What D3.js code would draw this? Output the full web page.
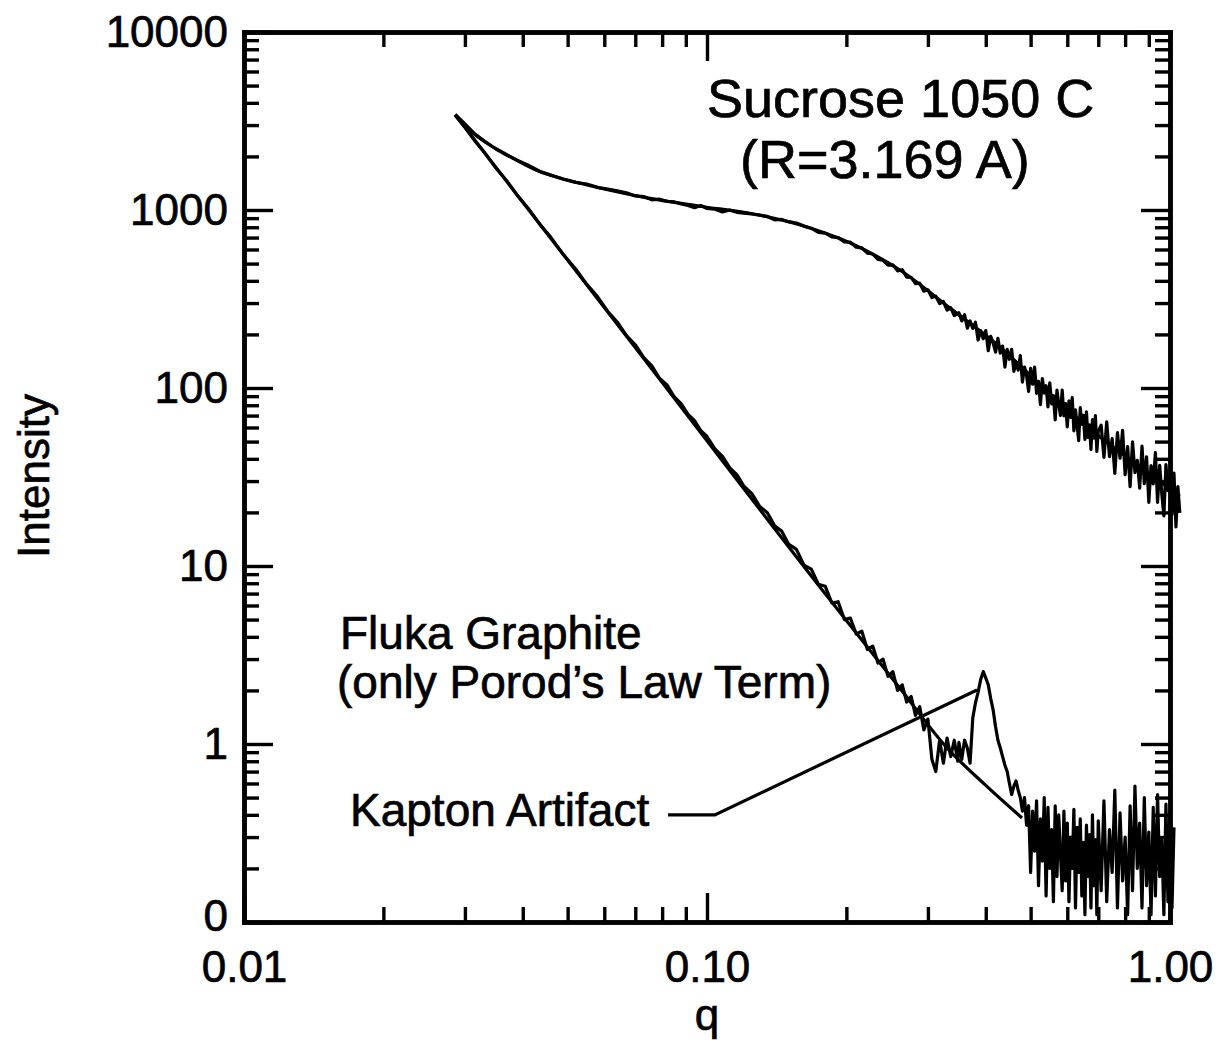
<!DOCTYPE html>
<html><head><meta charset="utf-8">
<script src="https://cdn.jsdelivr.net/npm/d3@7"></script>
<style>
html,body{margin:0;padding:0;background:#fff;}
svg text{font-family:"Liberation Sans",Arial,Helvetica,sans-serif;fill:#000;stroke:#000;stroke-width:0.7px;}
</style></head><body>
<svg id="chart" width="1219" height="1043"></svg>
<script>
// ---------- data ----------
const qData = [
0.0286,0.030,0.0315,0.033,0.035,0.037,0.039,0.041,0.0435,0.046,0.049,0.052,0.055,0.058,0.061,0.064,0.067,0.070,0.073,0.076,
0.079,0.082,0.085,0.088,0.091,0.094,0.097,0.100,0.104,0.108,0.112,0.116,0.120,0.125,0.130,0.135,0.140,0.145,0.150,
0.156,0.162,0.168,0.174,0.180,0.186,0.192,0.198,0.204,0.210,0.216,0.222,0.228,0.234,0.240,0.246,0.252,0.258,0.264,0.270,
0.276,0.282,0.288,0.294,0.300,0.306,0.312,0.318,0.324,0.330,0.336,0.342,0.348,
0.350,0.355,0.360,0.365,0.370,0.375,0.380,0.385,0.390,0.395,0.400,0.405,0.410,0.415,0.420,0.425,0.430,0.435,0.440,0.445,
0.450,0.455,0.460,0.465,0.470,0.475,0.480,0.485,0.490,0.495,0.500,0.505,0.510,0.515,0.520,0.525,0.530,0.535,0.540,0.545,
0.550,0.555,0.560,0.565,0.570,0.575,0.580,0.585,0.590,0.595,0.600,0.605,0.610,0.615,0.620,0.625,0.630,0.635,0.640,0.645,
0.650,0.655,0.660,0.665,0.670,0.675,0.680,0.685,0.690,0.695,0.700,
0.71,0.72,0.73,0.74,0.75,0.76,0.77,0.78,0.79,0.80,0.81,0.82,0.83,0.84,0.85,0.86,0.87,0.88,0.89,0.90,
0.91,0.92,0.93,0.94,0.95,0.96,0.97,0.98,0.99,1.00,1.01,1.02,1.03,1.04,1.05
];
const sucroseData = [
3450,3050,2680,2450,2200,2030,1900,1790,1650,1570,1490,1430,1400,1340,1310,1280,1250,1200,1190,1140,
1150,1120,1110,1080,1060,1030,1060,1020,1010,975,1000,970,960,950,935,920,880,885,860,
845,812,790,748,742,706,700,662,660,618,612,572,566,528,522,490,492,455,462,420,
418,386,388,350,356,322,328,298,306,274,283,255,262,
265,238,258,217,238,216,234,186,210,189,210,162,195,179,159,190,157,172,131,165,
145,165,124,140,126,152,108,131,118,95.6,129,105,131,93.3,109,80.7,113,93.6,103,78.4,
107,81.5,90.6,66.1,97.2,81.5,70.1,97.2,69.8,81.7,60.4,84.8,68.4,88.2,57.5,75.4,61.7,50.6,77.5,62.4,
70.2,51.5,73.4,52.8,62.1,45.2,66.5,52.3,69.9,44.0,57.2,
61.8,40.8,64.6,41.1,51.9,33.1,56.1,40.3,57.8,32.6,46.9,27.9,49.9,33.5,39.2,27.4,47.1,29.0,41.0,22.8,
36.7,28.9,43.3,22.8,36.8,25.5,19.1,37.1,26.5,31.8,19.4,33.3,16.6,27.9,19.9
];
const graphiteData = [
3400,2920,2450,2120,1720,1450,1200,1030,835,702,560,468,382,326,270,235,197,175,148,133,
113,104,89,81.5,71,65.5,57.5,53.4,45.5,41.3,35.6,32.6,28.2,25.5,21.6,19.9,16.8,15.7,13.3,
12.4,10.1,9.6,7.9,7.7,6.2,6.3,5.0,5.1,4.15,4.3,3.4,3.55,2.85,3.0,2.4,2.55,2.0,2.15,1.72,
1.85,1.45,1.62,1.2,1.38,0.82,0.70,1.05,0.78,1.08,0.85,1.05,0.80,
1.02,0.82,1.05,0.95,0.78,1.40,1.70,1.95,2.30,2.55,2.35,2.15,1.80,1.55,1.25,1.05,0.95,0.85,0.76,0.70,
0.60,0.52,0.58,0.62,0.55,0.50,0.42,0.50,0.35,0.45,0.19,0.42,0.25,0.48,0.16,0.38,0.22,0.50,0.14,0.44,
0.20,0.33,0.13,0.45,0.18,0.40,0.24,0.15,0.42,0.17,0.36,0.13,0.30,0.20,0.43,0.12,0.34,0.19,0.38,0.14,
0.28,0.11,0.35,0.18,0.31,0.12,0.40,0.16,0.29,0.11,0.37,
0.15,0.48,0.13,0.33,0.19,0.55,0.12,0.41,0.17,0.30,0.11,0.45,0.15,0.58,0.20,0.36,0.12,0.50,0.16,0.32,
0.11,0.44,0.14,0.52,0.18,0.29,0.11,0.46,0.13,0.38,0.12,0.34,null,null,null
];
const qSucroseFit = [0.0286,0.0312,0.0370,0.0436,0.0499,0.0587,0.0742,0.0966,0.126,0.159,0.204,0.261,0.335,0.429,0.551,0.706,0.905,1.05];
const sucroseFit  = [3420,2710,2040,1640,1475,1330,1170,1050,950,823,652,460,281,170,92.5,53.0,32.9,24.7];
const qPorodFit = [0.0286,0.0706,0.184,0.261,0.330,0.399,0.479];
const porodFit  = [3420,164,6.5,2.06,0.95,0.589,0.384];
const kaptonPointerQ = [0.0824,0.104,0.383];
const kaptonPointerI = [0.40,0.40,2.01];
const xTickValues = [0.01,0.1,1];
const xTickLabels = ["0.01","0.10","1.00"];
const yTickValues = [0.1,1,10,100,1000,10000];
const yTickLabels = ["0","1","10","100","1000","10000"];

// ---------- chart ----------
const svg = d3.select("#chart");
const x = d3.scaleLog().domain([0.01,1]).range([244,1170]);
const y = d3.scaleLog().domain([0.1,10000]).range([922,32]);
const isMajor = v => Math.abs(Math.log10(v) - Math.round(Math.log10(v))) < 1e-6;
const xMinor = x.ticks().filter(v => !isMajor(v));
const yMinor = y.ticks().filter(v => !isMajor(v));

function styleAxis(g){
  g.attr("font-size",null).attr("font-family",null);
  g.select(".domain").attr("stroke","#000").attr("stroke-width",4.5).attr("stroke-linecap","square");
  g.selectAll(".tick line").attr("stroke","#000").attr("stroke-width",3.4);
  g.selectAll(".tick text").style("font-size","44px");
}
const axes = svg.append("g");
// bottom
axes.append("g").attr("transform","translate(0,922)")
  .call(d3.axisBottom(x).tickValues(xMinor).tickSize(-15).tickSizeOuter(0).tickFormat("")).call(styleAxis);
axes.append("g").attr("transform","translate(0,922)")
  .call(d3.axisBottom(x).tickValues(xTickValues).tickSize(-29).tickSizeOuter(0).tickPadding(29)
    .tickFormat(d => xTickLabels[xTickValues.findIndex(v => Math.abs(v-d)<1e-9)])).call(styleAxis);
// top
axes.append("g").attr("transform","translate(0,32)")
  .call(d3.axisTop(x).tickValues(xMinor).tickSize(-15).tickSizeOuter(0).tickFormat("")).call(styleAxis);
axes.append("g").attr("transform","translate(0,32)")
  .call(d3.axisTop(x).tickValues(xTickValues).tickSize(-29).tickSizeOuter(0).tickFormat("")).call(styleAxis);
// left
axes.append("g").attr("transform","translate(244,0)")
  .call(d3.axisLeft(y).tickValues(yMinor).tickSize(-15).tickSizeOuter(0).tickFormat("")).call(styleAxis);
axes.append("g").attr("transform","translate(244,0)")
  .call(d3.axisLeft(y).tickValues(yTickValues).tickSize(-29).tickSizeOuter(0).tickPadding(16)
    .tickFormat(d => yTickLabels[yTickValues.findIndex(v => Math.abs(v-d)<1e-9)])).call(styleAxis)
  .selectAll(".tick text").attr("dy", d => d === yTickValues[0] ? "0.2em" : "0.32em");
// right
axes.append("g").attr("transform","translate(1170,0)")
  .call(d3.axisRight(y).tickValues(yMinor).tickSize(-15).tickSizeOuter(0).tickFormat("")).call(styleAxis);
axes.append("g").attr("transform","translate(1170,0)")
  .call(d3.axisRight(y).tickValues(yTickValues).tickSize(-29).tickSizeOuter(0).tickFormat("")).call(styleAxis);

// axis titles
svg.append("text").attr("transform","translate(49,476) rotate(-90)")
  .attr("text-anchor","middle").style("font-size","44px").text("Intensity");
svg.append("text").attr("x",707).attr("y",1030)
  .attr("text-anchor","middle").style("font-size","44px").text("q");

// lines
const lineData = d3.line().defined(d => d[1] != null).x(d => x(d[0])).y(d => y(d[1]));
const lineFit = d3.line().x(d => x(d[0])).y(d => y(d[1])).curve(d3.curveMonotoneX);
const plot = svg.append("g");
const SW = 3.2;
plot.append("path").datum(qSucroseFit.map((q,i)=>[q,sucroseFit[i]]))
  .attr("d",lineFit).attr("fill","none").attr("stroke","#000").attr("stroke-width",SW).attr("stroke-linejoin","round");
plot.append("path").datum(qPorodFit.map((q,i)=>[q,porodFit[i]]))
  .attr("d",lineFit).attr("fill","none").attr("stroke","#000").attr("stroke-width",SW).attr("stroke-linejoin","round");
plot.append("path").datum(qData.map((q,i)=>[q,sucroseData[i]]))
  .attr("d",lineData).attr("fill","none").attr("stroke","#000").attr("stroke-width",SW).attr("stroke-linejoin","round");
plot.append("path").datum(qData.map((q,i)=>[q,graphiteData[i]]))
  .attr("d",lineData).attr("fill","none").attr("stroke","#000").attr("stroke-width",SW).attr("stroke-linejoin","round");
// Kapton pointer
plot.append("path").datum(kaptonPointerQ.map((q,i)=>[q,kaptonPointerI[i]]))
  .attr("d",d3.line().x(d=>x(d[0])).y(d=>y(d[1]))).attr("fill","none").attr("stroke","#000").attr("stroke-width",SW);

// annotations
const ann = svg.append("g");
ann.append("text").attr("x",707).attr("y",117).style("font-size","54px").text("Sucrose 1050 C");
ann.append("text").attr("x",740).attr("y",178).style("font-size","54px").text("(R=3.169 A)");
ann.append("text").attr("x",340).attr("y",649).style("font-size","46px").text("Fluka Graphite");
ann.append("text").attr("x",337).attr("y",698).style("font-size","46px").text("(only Porod\u2019s Law Term)");
ann.append("text").attr("x",350).attr("y",826).style("font-size","46px").text("Kapton Artifact");
</script>
</body></html>
